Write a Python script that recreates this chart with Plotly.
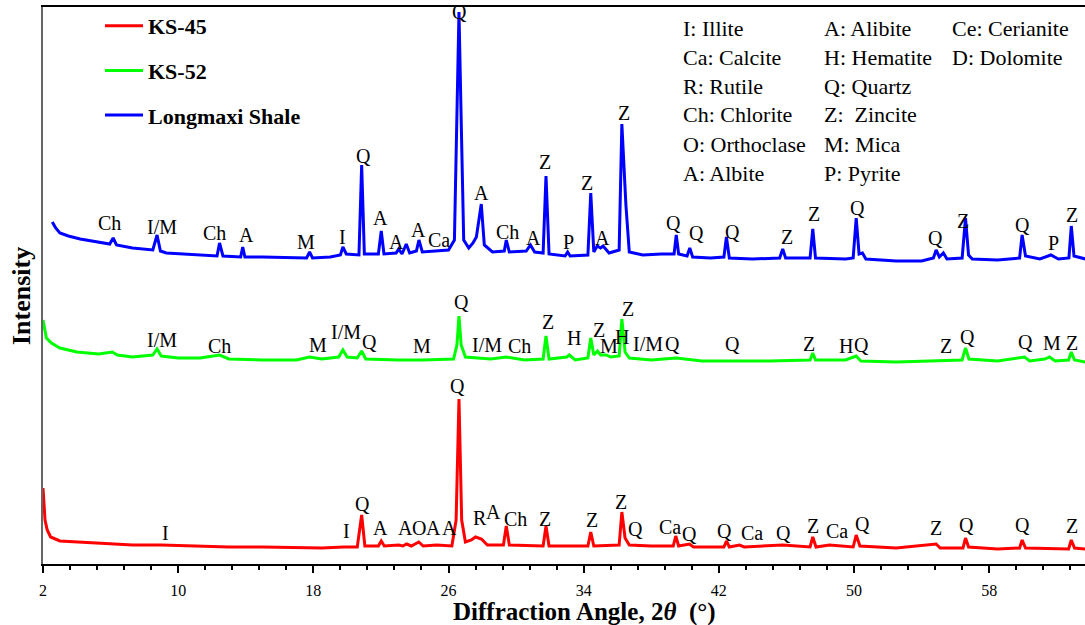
import plotly.graph_objects as go

# ---------------- data ----------------
# KS-45 (red)
ks45_angle = [2.0, 2.05, 2.12, 2.25, 2.45, 3.0, 5.0, 7.3, 9.0, 11.0, 13.0, 15.0, 17.0, 18.5, 19.8,
              20.6, 20.86, 21.05, 21.85, 22.02, 22.2, 23.05, 23.3, 23.52, 23.8, 24.24, 24.5, 25.3,
              26.2, 26.45, 26.62, 26.78, 27.0, 27.35, 27.6, 27.95, 28.3, 29.25, 29.42, 29.6, 31.6,
              31.77, 31.95, 34.25, 34.42, 34.6, 36.1, 36.26, 36.45, 36.7, 38.0, 39.3, 39.45, 39.62,
              40.26, 40.5, 42.3, 42.45, 42.62, 43.22, 43.5, 45.78, 47.4, 47.56, 47.75, 48.55, 49.95,
              50.13, 50.35, 52.5, 54.86, 55.1, 56.45, 56.6, 56.78, 58.5, 59.8, 59.95, 60.15, 62.7,
              62.86, 63.05, 63.7]
ks45_int = [76, 59, 44, 34, 27, 23, 21, 19, 19, 18, 17, 17, 16, 16, 17,
            17, 49, 18, 18, 23, 18, 19, 18, 20, 18, 22, 18, 19,
            18, 44, 165, 44, 22, 24, 27, 25, 19, 19, 38, 19, 18,
            38, 18, 18, 32, 18, 19, 52, 26, 19, 18, 18, 28, 18,
            20, 17, 17, 23, 17, 19, 17, 19, 17, 27, 17, 19, 17,
            29, 18, 16, 20, 16, 16, 26, 17, 15, 16, 24, 16, 15,
            24, 16, 15]

# KS-52 (green)
ks52_angle = [2.0, 2.2, 2.5, 3.0, 4.0, 5.3, 6.1, 6.4, 7.3, 8.5, 8.75, 9.0, 10.0, 11.3, 12.45, 13.0,
              15.0, 17.0, 17.78, 18.5, 19.5, 19.75, 20.0, 20.6, 20.86, 21.1, 23.0, 24.5, 26.3, 26.5,
              26.62, 26.75, 27.0, 28.5, 29.4, 30.5, 31.6, 31.77, 31.95, 33.0, 33.15, 33.5, 34.25,
              34.42, 34.6, 34.82, 35.0, 35.33, 35.6, 36.1, 36.26, 36.45, 36.7, 38.0, 39.48, 41.0,
              43.0, 45.0, 47.4, 47.56, 47.72, 49.5, 50.13, 50.4, 52.5, 54.5, 56.4, 56.6, 56.8, 58.5,
              60.09, 60.4, 61.3, 61.57, 61.9, 62.7, 62.86, 63.05, 63.7]
ks52_int = [244, 226, 221, 216, 212, 210, 212, 209, 207, 209, 215, 208, 206, 206, 209, 205,
            204, 204, 207, 205, 207, 214, 207, 206, 213, 205, 204, 204, 205, 219,
            248, 219, 207, 205, 207, 204, 205, 228, 205, 207, 209, 204, 206,
            226, 209, 213, 209, 209, 207, 208, 245, 212, 206, 204, 206, 203,
            203, 203, 204, 211, 204, 204, 208, 203, 202, 203, 204, 216, 205, 203,
            207, 203, 205, 207, 203, 204, 212, 204, 202]

# Longmaxi Shale (blue)
lms_angle = [2.55, 2.75, 3.0, 3.5, 4.2, 5.3, 5.95, 6.15, 6.35, 7.3, 8.5, 8.75, 8.95, 9.3, 11.3,
             12.3, 12.45, 12.65, 13.7, 13.82, 13.95, 15.0, 17.6, 17.78, 17.95, 19.0, 19.6, 19.75,
             19.95, 20.7, 20.86, 21.02, 21.85, 22.02, 22.18, 22.9, 23.05, 23.25, 23.5, 23.7, 24.1,
             24.25, 24.45, 25.3, 26.0, 26.35, 26.5, 26.62, 26.75, 26.9, 27.2, 27.45, 27.65, 27.94,
             28.12, 28.6, 29.3, 29.42, 29.6, 30.6, 30.85, 31.1, 31.6, 31.77, 31.95, 32.9, 33.05,
             33.2, 34.25, 34.42, 34.6, 34.8, 35.0, 35.15, 35.5, 36.1, 36.26, 36.5, 36.7, 37.5,
             38.6, 39.35, 39.48, 39.62, 40.12, 40.28, 40.45, 41.5, 42.3, 42.45, 42.62, 44.0, 45.6,
             45.78, 45.95, 47.4, 47.56, 47.72, 49.5, 49.95, 50.13, 50.3, 50.5, 50.7, 52.5, 54.0,
             54.7, 54.86, 55.05, 55.29, 55.5, 56.4, 56.6, 56.78, 57.0, 58.5, 59.8, 59.95, 60.15,
             61.0, 61.65, 62.1, 62.72, 62.86, 63.02, 63.7]
lms_int = [342, 336, 331, 328, 325, 322, 320, 326, 319, 316, 314, 329, 313, 311, 309,
           308, 321, 308, 307, 317, 307, 307, 306, 312, 306, 307, 309, 317,
           310, 309, 399, 310, 310, 333, 310, 311, 315, 310, 320, 311, 313,
           324, 312, 313, 314, 324, 444, 552, 444, 324, 316, 321, 327, 360,
           319, 312, 313, 324, 312, 313, 319, 312, 311, 388, 310, 308, 312,
           308, 309, 371, 312, 318, 316, 318, 311, 314, 440, 359, 312, 309,
           310, 310, 329, 310, 308, 316, 307, 306, 307, 327, 306, 305, 306,
           315, 306, 306, 335, 306, 305, 306, 346, 310, 311, 305, 303, 303,
           306, 314, 307, 311, 305, 306, 346, 309, 305, 304, 306, 329, 308,
           305, 309, 305, 306, 338, 308, 305]

# Peak labels: text, angle, vertical position (same units as intensity)
lms_lbl_text = ["Ch", "I/M", "Ch", "A", "M", "I", "Q", "A", "A", "A", "Ca", "Q", "A", "Ch", "A",
                "Z", "P", "Z", "A", "Z", "Q", "Q", "Q", "Z", "Z", "Q", "Q", "Z", "Q", "P", "Z"]
lms_lbl_x = [5.94, 9.07, 12.15, 14.04, 17.54, 19.73, 20.97, 21.97, 22.92, 24.22, 25.41, 26.67,
             27.95, 29.49, 31.03, 31.74, 33.10, 34.22, 35.11, 36.36, 39.34, 40.70, 42.83, 46.03,
             47.63, 50.23, 54.84, 56.44, 59.99, 61.83, 62.89]
lms_lbl_y = [341, 337, 331, 329, 322, 327, 408, 346, 322, 334, 324, 552, 371, 332, 326, 402,
             322, 381, 326, 451, 341, 331, 332, 327, 350, 356, 326, 343, 339, 321, 349]

ks52_lbl_text = ["I/M", "Ch", "M", "I/M", "Q", "M", "Q", "I/M", "Ch", "Z", "H", "Z", "M", "H",
                 "Z", "I/M", "Q", "Q", "Z", "H", "Q", "Z", "Q", "Q", "M", "Z"]
ks52_lbl_x = [9.07, 12.45, 18.25, 19.96, 21.32, 24.46, 26.77, 28.25, 30.2, 31.86, 33.4, 34.88,
              35.5, 36.26, 36.6, 37.83, 39.25, 42.8, 47.36, 49.55, 50.44, 55.47, 56.72, 60.15,
              61.69, 62.93]
ks52_lbl_y = [224, 218, 219, 232, 222, 218, 262, 219, 218, 242, 226, 234, 218, 227, 255, 220,
              220, 220, 220, 218, 219, 218, 227, 222, 221, 221]

ks45_lbl_text = ["I", "I", "Q", "A", "A", "O", "A", "A", "Q", "R", "A", "Ch", "Z", "Z", "Z", "Q",
                 "Ca", "Q", "Q", "Ca", "Q", "Z", "Ca", "Q", "Z", "Q", "Q", "Z"]
ks45_lbl_x = [9.25, 19.96, 20.91, 21.97, 23.45, 24.28, 25.11, 26.05, 26.53, 27.84, 28.64, 29.96,
              31.74, 34.52, 36.18, 37.06, 39.08, 40.26, 42.33, 43.99, 45.82, 47.6, 49.02, 50.5,
              54.88, 56.65, 59.97, 62.93]
ks45_lbl_y = [31, 33, 60, 36, 36, 36, 36, 36, 178, 46, 52, 45, 45, 44, 62, 35, 37, 30, 33, 31, 31,
              38, 33, 40, 36, 39, 39, 38]

# Mineral key (three columns)
key_col1 = ["I: Illite", "Ca: Calcite", "R: Rutile", "Ch: Chlorite", "O: Orthoclase", "A: Albite"]
key_col2 = ["A: Alibite", "H: Hematite", "Q: Quartz", "Z:  Zincite", "M: Mica", "P: Pyrite"]
key_col3 = ["Ce: Cerianite", "D: Dolomite"]

series_names = ["KS-45", "KS-52", "Longmaxi Shale"]
series_colors = ["#ff0000", "#00ff00", "#0000ff"]

# ---------------- figure ----------------
SERIF = "Times New Roman, Liberation Serif, serif"
W, H = 1085, 625
ML, MR, MT, MB = 43, 0, 7, 61
PX_PER_DEG = 16.896
X_MAX = 2 + (W - ML - MR) / PX_PER_DEG
Y_MAX = H - MT - MB

fig = go.Figure()
for name, xs, ys, col in zip(series_names,
                             [ks45_angle, ks52_angle, lms_angle],
                             [ks45_int, ks52_int, lms_int],
                             series_colors):
    fig.add_trace(go.Scatter(x=xs, y=ys, mode="lines", name=name, legendgroup=name,
                             line=dict(color=col, width=3)))

ann = []
for texts, xs, ys in [(lms_lbl_text, lms_lbl_x, lms_lbl_y),
                      (ks52_lbl_text, ks52_lbl_x, ks52_lbl_y),
                      (ks45_lbl_text, ks45_lbl_x, ks45_lbl_y)]:
    for t, x, y in zip(texts, xs, ys):
        ann.append(dict(text=t, x=x, y=y, xref="x", yref="y", showarrow=False,
                        xanchor="center", yanchor="middle",
                        font=dict(family=SERIF, size=20, color="black")))

key_rows_py = [28, 57, 86, 115, 145, 174]
key_cols_px = [681, 822, 950]
for col_px, items in zip(key_cols_px, [key_col1, key_col2, key_col3]):
    for py, t in zip(key_rows_py, items):
        ann.append(dict(text=t, x=(col_px - ML) / (W - ML - MR), y=(H - MB - py) / Y_MAX,
                        xref="paper", yref="paper", showarrow=False,
                        xanchor="left", yanchor="middle",
                        font=dict(family=SERIF, size=22, color="black")))

# axis titles
ann.append(dict(text="<b>Diffraction Angle, 2<i>θ</i>  (°)</b>", x=(584 - ML) / (W - ML - MR),
                y=-(612 - (H - MB)) / Y_MAX, xref="paper", yref="paper", showarrow=False,
                xanchor="center", yanchor="middle",
                font=dict(family=SERIF, size=25, color="black")))
ann.append(dict(text="<b>Intensity</b>", x=-(ML - 22) / (W - ML - MR), y=(H - MB - 296) / Y_MAX,
                xref="paper", yref="paper", showarrow=False, textangle=-90,
                xanchor="center", yanchor="middle",
                font=dict(family=SERIF, size=26, color="black")))

fig.update_layout(
    width=W, height=H,
    margin=dict(l=ML, r=MR, t=MT, b=MB, pad=0),
    paper_bgcolor="white", plot_bgcolor="white",
    showlegend=True,
    legend=dict(x=(100 - ML) / (W - ML - MR), y=(H - MB - 5) / Y_MAX,
                xanchor="left", yanchor="top", bgcolor="rgba(0,0,0,0)",
                font=dict(family=SERIF, size=22, color="black", weight="bold"),
                tracegroupgap=13, itemwidth=38),
    annotations=ann,
    xaxis=dict(range=[2, X_MAX], tick0=2, dtick=8, ticks="outside", ticklen=7, tickwidth=1.5,
               tickcolor="black", showline=True, linecolor="black", linewidth=1.5, mirror=True,
               showgrid=False, zeroline=False, ticklabelstandoff=4,
               tickfont=dict(family=SERIF, size=16, color="black"),
               minor=dict(tick0=2, dtick=1.6, ticks="outside", ticklen=4, tickwidth=1.5,
                          tickcolor="black", showgrid=False)),
    yaxis=dict(range=[0, Y_MAX], showticklabels=False, ticks="", showline=True,
               linecolor="#666666", linewidth=1.5, showgrid=False, zeroline=False),
)

fig.write_html("out.html")
